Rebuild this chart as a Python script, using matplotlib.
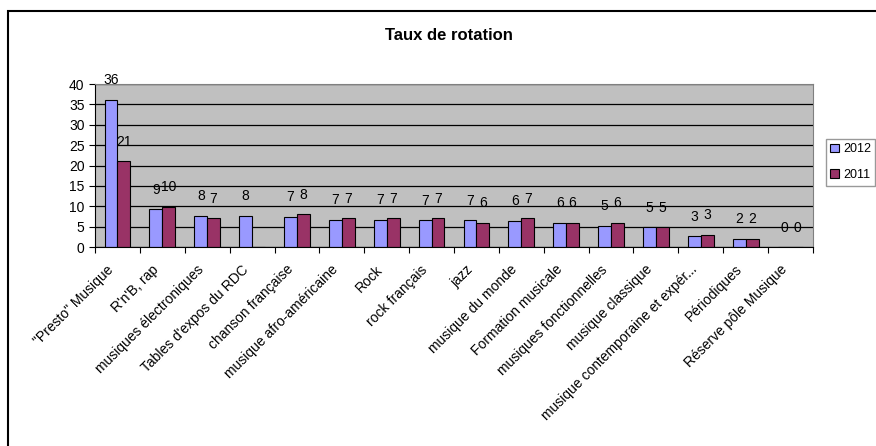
import numpy as np
import matplotlib
matplotlib.use("Agg")
import matplotlib.pyplot as plt
from matplotlib.patches import Rectangle
from matplotlib.transforms import ScaledTranslation

plt.rcParams['font.family'] = ['Liberation Sans', 'DejaVu Sans']

# categories and values
categories = ['"Presto" Musique', "R'n'B, rap", "musiques électroniques",
              "Tables d'expos du RDC", "chanson française", "musique afro-américaine",
              "Rock", "rock français", "jazz", "musique du monde", "Formation musicale",
              "musiques fonctionnelles", "musique classique",
              "musique contemporaine et expér...", "Périodiques", "Réserve pôle Musique"]
v2012 = [36.1, 9.3, 7.7, 7.7, 7.4, 6.7, 6.7, 6.6, 6.6, 6.4, 6.0, 5.2, 4.9, 2.6, 2.0, 0.0]
v2011 = [21.0, 9.9, 7.1, np.nan, 8.0, 7.1, 7.1, 7.1, 6.0, 7.1, 6.0, 6.0, 4.9, 3.0, 2.0, 0.0]
series_names = ["2012", "2011"]

fig = plt.figure(figsize=(8.76, 4.46), dpi=100)
ax = fig.add_axes([95/876, 1-247/446, (813-95)/876, (247-84)/446])

x = np.arange(len(categories))
w = 0.286
b1 = ax.bar(x - w/2, v2012, w, color="#9999FF", edgecolor="black", linewidth=0.8, label=series_names[0])
b2 = ax.bar(x + w/2, np.nan_to_num(v2011), w, color="#993366", edgecolor="black", linewidth=0.8, label=series_names[1])

# data labels above bars
for xs, vals in [(x - w/2, v2012), (x + w/2, v2011)]:
    for xi, v in zip(xs, vals):
        if np.isnan(v):
            continue
        ax.annotate(f"{round(v):d}", (xi, v), xytext=(0, 9), textcoords="offset points",
                    ha="center", va="bottom", fontsize=10)

ax.set_facecolor("#C0C0C0")
ax.set_xlim(-0.5, len(categories) - 0.5)
ax.set_ylim(0, 40)
ax.set_yticks(range(0, 41, 5))
ax.yaxis.grid(True, color="black", linewidth=0.9)
ax.set_axisbelow(True)

# ticks at category boundaries, labels at centers
ax.set_xticks(np.arange(len(categories) + 1) - 0.5)
ax.set_xticklabels([])
ax.set_xticks(x, minor=True)
ax.set_xticklabels(categories, minor=True, rotation=45, ha="right",
                   rotation_mode="anchor", fontsize=10)
ax.tick_params(axis="x", which="minor", length=0, pad=9)
ax.tick_params(axis="x", which="major", length=4, color="black")
ax.tick_params(axis="y", labelsize=10, length=4)

# nudge rotated labels so their ends sit just left of the category centre
shift = ScaledTranslation(-11/100, -3/100, fig.dpi_scale_trans)
for lab in ax.get_xticklabels(minor=True):
    lab.set_transform(lab.get_transform() + shift)

for s in ["top", "right"]:
    ax.spines[s].set_color("#808080")
ax.spines["left"].set_color("black")
ax.spines["bottom"].set_color("black")

fig.text(449/876, 1-35/446, "Taux de rotation", ha="center", va="center",
         fontsize=12, fontweight="bold")

leg = fig.legend(handles=[b1, b2], labels=series_names, loc="upper left",
                 bbox_to_anchor=(826/876, 1-139/446), fontsize=9, frameon=True,
                 fancybox=False, edgecolor="#808080", handlelength=0.7,
                 handleheight=0.7, borderpad=0.35, labelspacing=1.1,
                 handletextpad=0.3, borderaxespad=0.0)
leg.get_frame().set_linewidth(1.0)

# outer chart border
fig.patches.append(Rectangle((8/876, -0.1), 1.2, 1 - 11/446 + 0.1,
                             transform=fig.transFigure, fill=False,
                             edgecolor="black", linewidth=1.5))

plt.savefig("out.png", dpi=100)
